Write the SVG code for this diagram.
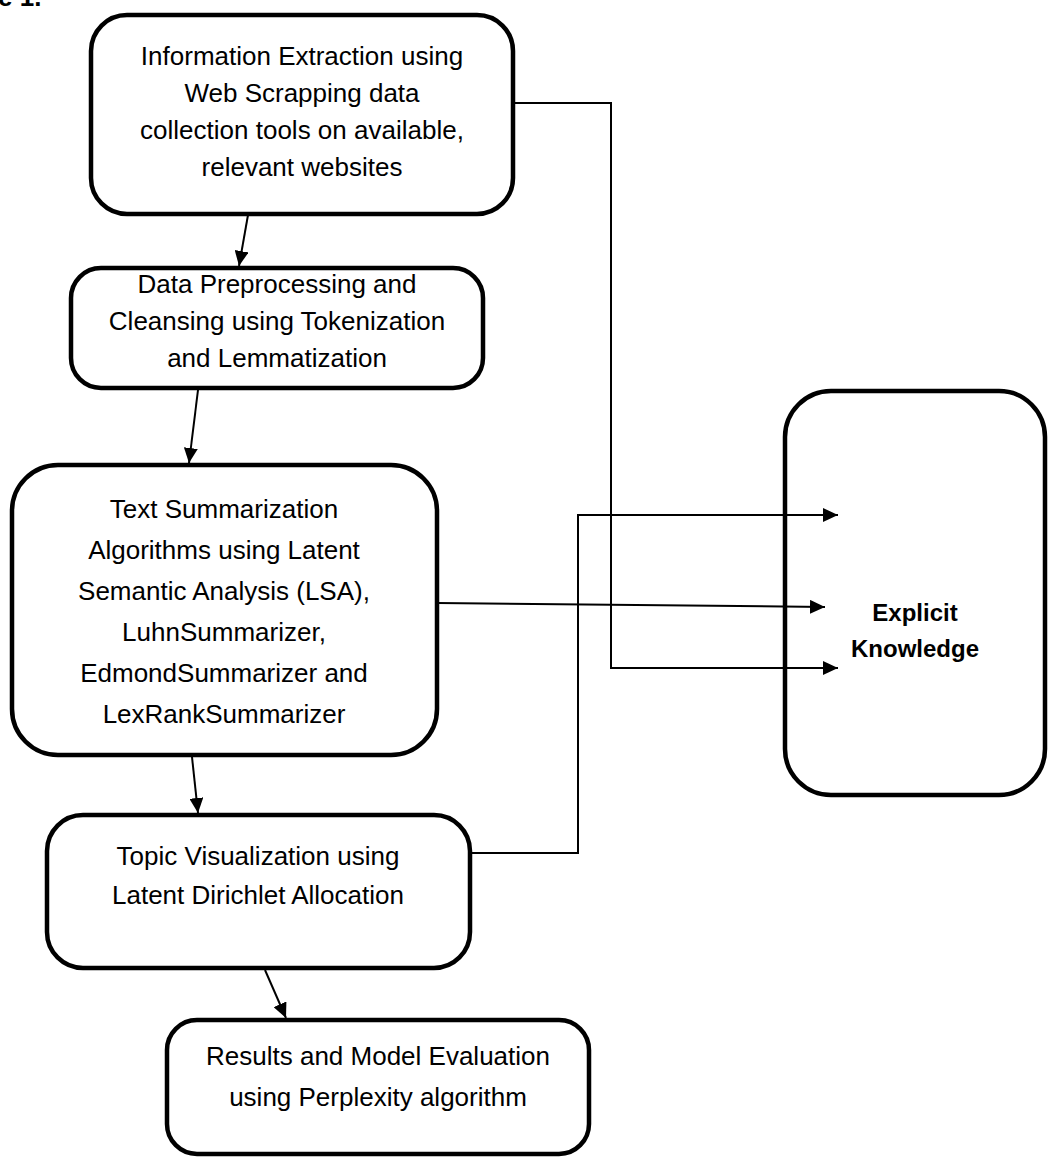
<svg xmlns="http://www.w3.org/2000/svg" width="1048" height="1158" viewBox="0 0 1048 1158">
<style>
.box{fill:#fff;stroke:#000;stroke-width:4.5}
.t{font-family:"Liberation Sans",Arial,sans-serif;font-size:26px;fill:#000;text-anchor:middle}
.b{font-family:"Liberation Sans",Arial,sans-serif;font-size:24px;font-weight:bold;fill:#000;text-anchor:middle}
.c{fill:none;stroke:#000;stroke-width:2}
</style>
<defs>
<marker id="ah" markerUnits="userSpaceOnUse" markerWidth="16" markerHeight="14" refX="15" refY="7" orient="auto">
<path d="M0,0 L15,7 L0,14 Z" fill="#000"/>
</marker>
</defs>
<rect width="1048" height="1158" fill="#fff"/>
<text x="-2" y="6" class="b" style="text-anchor:start;font-size:26px">e 1.</text>
<g id="connectors">
<path class="c" d="M248,215 L239,266" marker-end="url(#ah)"/>
<path class="c" d="M198,390 L189,463" marker-end="url(#ah)"/>
<path class="c" d="M192,757 L198,813" marker-end="url(#ah)"/>
<path class="c" d="M265,970 L286,1018" marker-end="url(#ah)"/>
<path class="c" d="M513,103 H611 V668 H838" marker-end="url(#ah)"/>
<path class="c" d="M437,603 L825,607" marker-end="url(#ah)"/>
<path class="c" d="M470,853 H578 V515 H838" marker-end="url(#ah)"/>
</g>
<g id="n1">
<rect class="box" x="91" y="15" width="422" height="199" rx="36"/>
<text class="t" x="302" y="65">Information Extraction using</text>
<text class="t" x="302" y="102">Web Scrapping data</text>
<text class="t" x="302" y="139">collection tools on available,</text>
<text class="t" x="302" y="176">relevant websites</text>
</g>
<g id="n2">
<rect class="box" x="71" y="268" width="412" height="120" rx="30"/>
<text class="t" x="277" y="293">Data Preprocessing and</text>
<text class="t" x="277" y="330">Cleansing using Tokenization</text>
<text class="t" x="277" y="367">and Lemmatization</text>
</g>
<g id="n3">
<rect class="box" x="12" y="465" width="425" height="290" rx="46"/>
<text class="t" x="224" y="518">Text Summarization</text>
<text class="t" x="224" y="559">Algorithms using Latent</text>
<text class="t" x="224" y="600">Semantic Analysis (LSA),</text>
<text class="t" x="224" y="641">LuhnSummarizer,</text>
<text class="t" x="224" y="682">EdmondSummarizer and</text>
<text class="t" x="224" y="723">LexRankSummarizer</text>
</g>
<g id="n4">
<rect class="box" x="47" y="815" width="423" height="153" rx="36"/>
<text class="t" x="258" y="865">Topic Visualization using</text>
<text class="t" x="258" y="904">Latent Dirichlet Allocation</text>
</g>
<g id="n5">
<rect class="box" x="167" y="1020" width="422" height="134" rx="30"/>
<text class="t" x="378" y="1065">Results and Model Evaluation</text>
<text class="t" x="378" y="1106">using Perplexity algorithm</text>
</g>
<g id="n6">
<rect class="box" x="785" y="391" width="260" height="404" rx="46" style="fill:none"/>
<text class="b" x="915" y="621">Explicit</text>
<text class="b" x="915" y="657">Knowledge</text>
</g>
</svg>
